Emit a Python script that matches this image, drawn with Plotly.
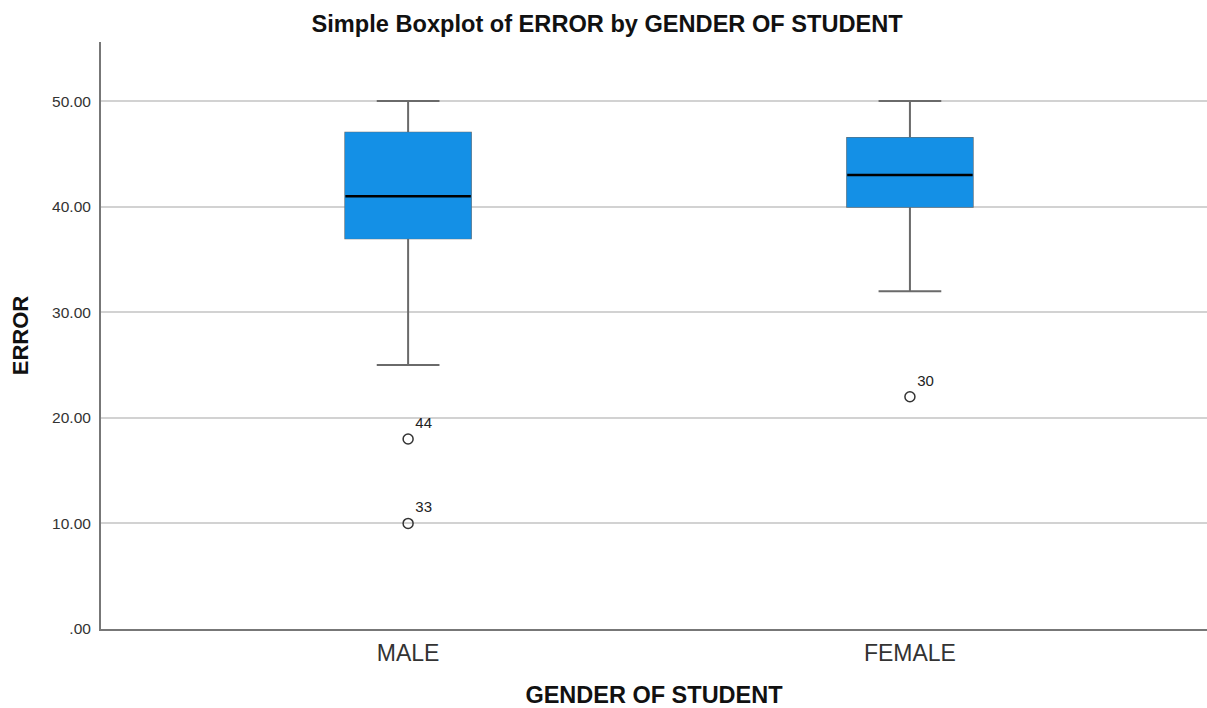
import plotly.graph_objects as go

categories = ["MALE", "FEMALE"]
lower_whisker = [25, 32]
q1 = [37, 40]
median = [41, 43]
q3 = [47, 46.5]
upper_whisker = [50, 50]

outlier_x = ["MALE", "MALE", "FEMALE"]
outlier_y = [18, 10, 22]
outlier_labels = ["44", "33", "30"]

y_ticks = [0, 10, 20, 30, 40, 50]
y_tick_text = [".00", "10.00", "20.00", "30.00", "40.00", "50.00"]

BLUE = "#1490e6"
GRAY = "#6a6a6a"
FONT = "Liberation Sans, Arial, sans-serif"

fig = go.Figure()

# Full box with whiskers (gray lines)
fig.add_trace(go.Box(
    x=categories, q1=q1, median=median, q3=q3,
    lowerfence=lower_whisker, upperfence=upper_whisker,
    fillcolor=BLUE, line=dict(color=GRAY, width=2),
    whiskerwidth=0.5, width=0.25, boxpoints=False,
    hoverinfo="skip", showlegend=False,
))
# Blue overlay to hide gray box border
fig.add_trace(go.Box(
    x=categories, q1=q1, median=median, q3=q3,
    lowerfence=q1, upperfence=q3,
    fillcolor=BLUE, line=dict(color=BLUE, width=1),
    whiskerwidth=0, width=0.25, boxpoints=False,
    hoverinfo="skip", showlegend=False,
))
# Black median line
fig.add_trace(go.Box(
    x=categories, q1=median, median=median, q3=median,
    lowerfence=median, upperfence=median,
    fillcolor="black", line=dict(color="black", width=2.5),
    whiskerwidth=0, width=0.25, boxpoints=False,
    hoverinfo="skip", showlegend=False,
))
# Outliers
fig.add_trace(go.Scatter(
    x=outlier_x, y=outlier_y, mode="markers+text",
    text=outlier_labels, textposition="top right",
    textfont=dict(family=FONT, size=15, color="#222222"),
    marker=dict(symbol="circle-open", size=10, color="#333333", line=dict(width=1.5)),
    showlegend=False, hoverinfo="skip", cliponaxis=False,
))

fig.update_layout(
    width=1207, height=708,
    margin=dict(l=101, r=0, t=42, b=79),
    paper_bgcolor="white", plot_bgcolor="white",
    boxmode="overlay",
    title=dict(
        text="<b>Simple Boxplot of ERROR by GENDER OF STUDENT</b>",
        x=0.503, xanchor="center", y=1 - 24 / 708, yanchor="middle",
        font=dict(family=FONT, size=23.6, color="#111111"),
    ),
    font=dict(family=FONT, color="#333333"),
)

fig.update_xaxes(
    type="category", categoryorder="array", categoryarray=categories,
    range=[-0.612, 1.592],
    showline=True, linecolor="#777777", linewidth=2,
    showgrid=False, ticks="", zeroline=False, ticklabelstandoff=2,
    tickfont=dict(family=FONT, size=23, color="#333333"),
    title=dict(text="<b>GENDER OF STUDENT</b>", standoff=25,
               font=dict(family=FONT, size=23.5, color="#111111")),
)
fig.update_yaxes(
    range=[0, 55.6],
    tickvals=y_ticks, ticktext=y_tick_text,
    showline=True, linecolor="#777777", linewidth=2,
    showgrid=True, gridcolor="#d2d2d2", gridwidth=2,
    zeroline=False, ticks="", ticklabelstandoff=5,
    tickfont=dict(family=FONT, size=15.5, color="#333333"),
    title=dict(text="<b>ERROR</b>", standoff=17,
               font=dict(family=FONT, size=22, color="#111111")),
)

fig.write_html(
    "out.html",
    config={"displayModeBar": False},
    post_script="document.body.style.margin='0';document.body.style.overflow='hidden';",
)
